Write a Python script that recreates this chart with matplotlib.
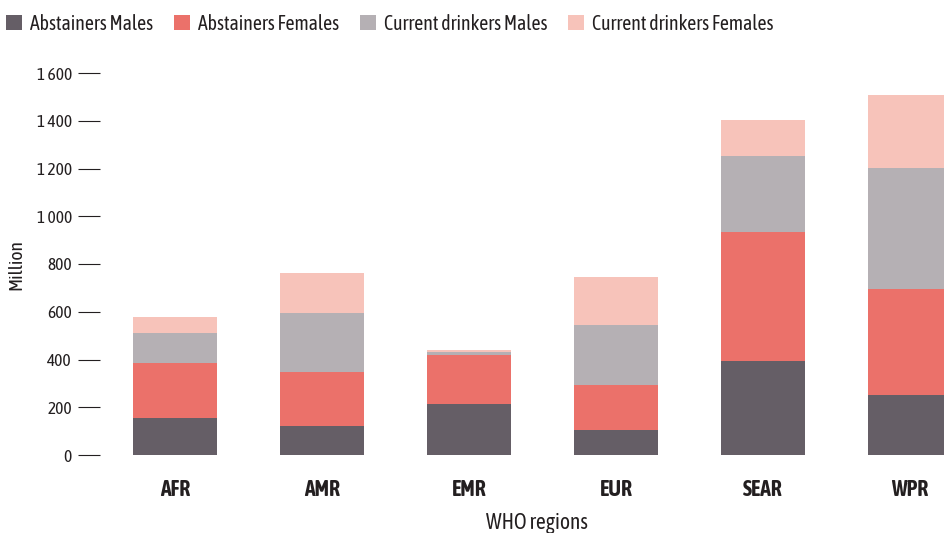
import numpy as np
import matplotlib
matplotlib.use("Agg")
import matplotlib.pyplot as plt
from matplotlib.ticker import FuncFormatter
from matplotlib.patches import Patch

plt.rcParams["font.family"] = ["Asap Condensed", "DejaVu Sans"]

regions = ["AFR", "AMR", "EMR", "EUR", "SEAR", "WPR"]
series_names = ["Abstainers Males", "Abstainers Females",
                "Current drinkers Males", "Current drinkers Females"]
abst_males = [155, 121, 213, 105, 394, 251]
abst_females = [230, 227, 205, 188, 540, 444]
drink_males = [126, 247, 12, 251, 318, 507]
drink_females = [67, 167, 10, 201, 151, 306]
colors = ["#655e66", "#eb716a", "#b5b0b4", "#f7c3ba"]
text_col = "#231f20"

series = [abst_males, abst_females, drink_males, drink_females]

fig = plt.figure(figsize=(9.45, 5.33), dpi=100)
ax = fig.add_axes([100 / 945, 78 / 533, 874 / 945, 382 / 533])

x = np.arange(len(regions))
bottom = np.zeros(len(regions))
for vals, col in zip(series, colors):
    ax.bar(x, vals, width=0.57, bottom=bottom, color=col, linewidth=0)
    bottom += np.array(vals)

ax.set_xlim(-0.51, 5.435)
ax.set_ylim(0, 1600)
ax.set_yticks(range(0, 1601, 200))
ax.yaxis.set_major_formatter(FuncFormatter(lambda v, p: f"{int(v):,}".replace(",", " ")))
ax.set_xticks(x)
ax.set_xticklabels(regions, fontsize=15.5, fontweight="bold", color=text_col)
ax.tick_params(axis="x", length=0, pad=17)
ax.tick_params(axis="y", length=16, width=0.8, color=text_col, pad=4.3,
               labelsize=12.5, labelcolor=text_col)
for s in ax.spines.values():
    s.set_visible(False)

ax.set_ylabel("Million", fontsize=14, color=text_col)
ax.yaxis.set_label_coords(-(100 - 25) / 874, (455 - 265) / 382)
ax.set_xlabel("WHO regions", fontsize=15.5, color=text_col, va="center")
ax.xaxis.set_label_coords((537 - 100) / 874, -(523 - 455) / 382)

handles = [Patch(facecolor=c, edgecolor="none") for c in colors]
fig.legend(handles, series_names, loc="upper left", bbox_to_anchor=(6 / 945, 1 - 13.5 / 533),
           ncol=4, frameon=False, fontsize=14.2, handlelength=0.8, handleheight=0.8,
           handletextpad=0.42, columnspacing=1.05, borderaxespad=0, borderpad=0,
           labelcolor=text_col)

fig.savefig("out.png", dpi=100)
